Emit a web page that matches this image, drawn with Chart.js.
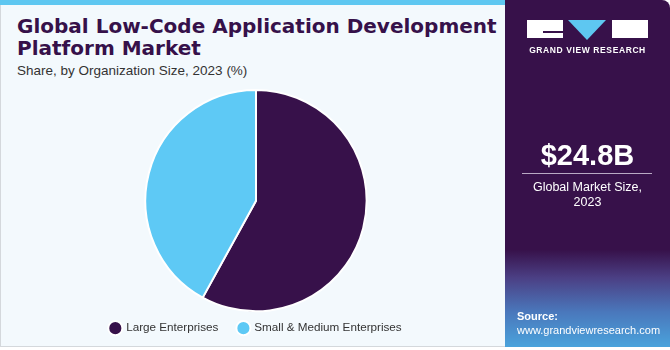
<!DOCTYPE html>
<html>
<head>
<meta charset="utf-8">
<script src="https://cdn.jsdelivr.net/npm/chart.js@4/dist/chart.umd.min.js"></script>
<style>
  html, body { margin: 0; padding: 0; }
  body { width: 670px; height: 350px; position: relative; overflow: hidden; background: #ffffff; font-family: "Liberation Sans", Arial, sans-serif; }
  #left { position: absolute; left: 0; top: 0; width: 505px; height: 347px; background: #f3f9fd; border-left: 1px solid #d4d8dc; border-bottom: 1px solid #d4d8dc; box-sizing: border-box; }
  #topbar { position: absolute; left: 0; top: 0; width: 505px; height: 5px; background: #5ec7f1; }
  #title { position: absolute; left: 17px; top: 15px; font-size: 20px; line-height: 22px; font-weight: bold; color: #36114a; font-family: "DejaVu Sans", sans-serif; letter-spacing: 0px; }
  #subtitle { position: absolute; left: 17px; top: 63px; font-size: 13.5px; color: #333; }
  #chartbox { position: absolute; left: 3px; top: 86px; width: 506px; height: 268px; }
  #right { position: absolute; left: 505px; top: 0; width: 165px; height: 347px; border-top-right-radius: 8px; overflow: hidden;
           background: linear-gradient(to bottom, #37114a 0%, #37114a 72%, #4b3f84 80%, #4a78bc 90%, #4aa3dc 100%); }
  .logo { position: absolute; }
  #gvr { position: absolute; left: 0; width: 165px; top: 45px; text-align: center; color: #ffffff; font-size: 8.5px; font-weight: bold; letter-spacing: 0.6px; }
  #value { position: absolute; left: 0; width: 165px; top: 139px; text-align: center; color: #fff; font-size: 29px; font-weight: bold; }
  #rule { position: absolute; left: 17px; width: 130px; top: 173px; height: 1px; background: #b9a9c4; }
  #caption { position: absolute; left: 0; width: 165px; top: 180px; text-align: center; color: #fff; font-size: 12.5px; line-height: 15px; }
  #source { position: absolute; left: 12px; top: 309px; color: #fff; font-size: 11px; line-height: 14px; }
</style>
</head>
<body>
<div id="left"></div>
<div id="topbar"></div>
<div id="title">Global Low-Code Application Development<br>Platform Market</div>
<div id="subtitle">Share, by Organization Size, 2023 (%)</div>
<div id="chartbox"><canvas id="c"></canvas></div>
<div id="right">
  <div class="logo" style="left:22px;top:20px;width:36px;height:18px;background:#fff;"></div>
  <div class="logo" style="left:38px;top:31px;width:20px;height:2px;background:#37114a;"></div>
  <div class="logo" style="left:63px;top:20px;width:0;height:0;border-left:19px solid transparent;border-right:19px solid transparent;border-top:20px solid #5ec7f1;"></div>
  <div class="logo" style="left:107px;top:20px;width:36px;height:18px;background:#fff;"></div>
  <div id="gvr">GRAND VIEW RESEARCH</div>
  <div id="value">$24.8B</div>
  <div id="rule"></div>
  <div id="caption">Global Market Size,<br>2023</div>
  <div id="source"><b>Source:</b><br>www.grandviewresearch.com</div>
</div>
<script>
// Share of the market by organization size, 2023 (%)
const categories = ["Large Enterprises", "Small & Medium Enterprises"];
const shares = [58, 42];
const colors = ["#37114a", "#5ec9f5"];

// Pull the legend row up a little so it sits closer to the pie
// while keeping wide horizontal spacing between the items.
const legendLift = {
  id: "legendLift",
  afterLayout(chart) {
    const lg = chart.legend;
    if (lg) { lg.top -= 10; lg.bottom -= 10; }
  }
};

new Chart(document.getElementById("c"), {
  type: "pie",
  data: {
    labels: categories,
    datasets: [{
      data: shares,
      backgroundColor: colors,
      borderColor: "#ffffff",
      borderWidth: 2,
      hoverOffset: 0
    }]
  },
  options: {
    responsive: true,
    maintainAspectRatio: false,
    animation: false,
    layout: { padding: { top: 3, bottom: 0 } },
    plugins: {
      tooltip: { enabled: false },
      legend: {
        position: "bottom",
        labels: {
          usePointStyle: true,
          pointStyle: "circle",
          boxWidth: 10,
          boxHeight: 10,
          padding: 20,
          color: "#333333",
          font: { family: "'Liberation Sans', Arial, sans-serif", size: 11.7 }
        }
      }
    }
  },
  plugins: [legendLift]
});
</script>
</body>
</html>
